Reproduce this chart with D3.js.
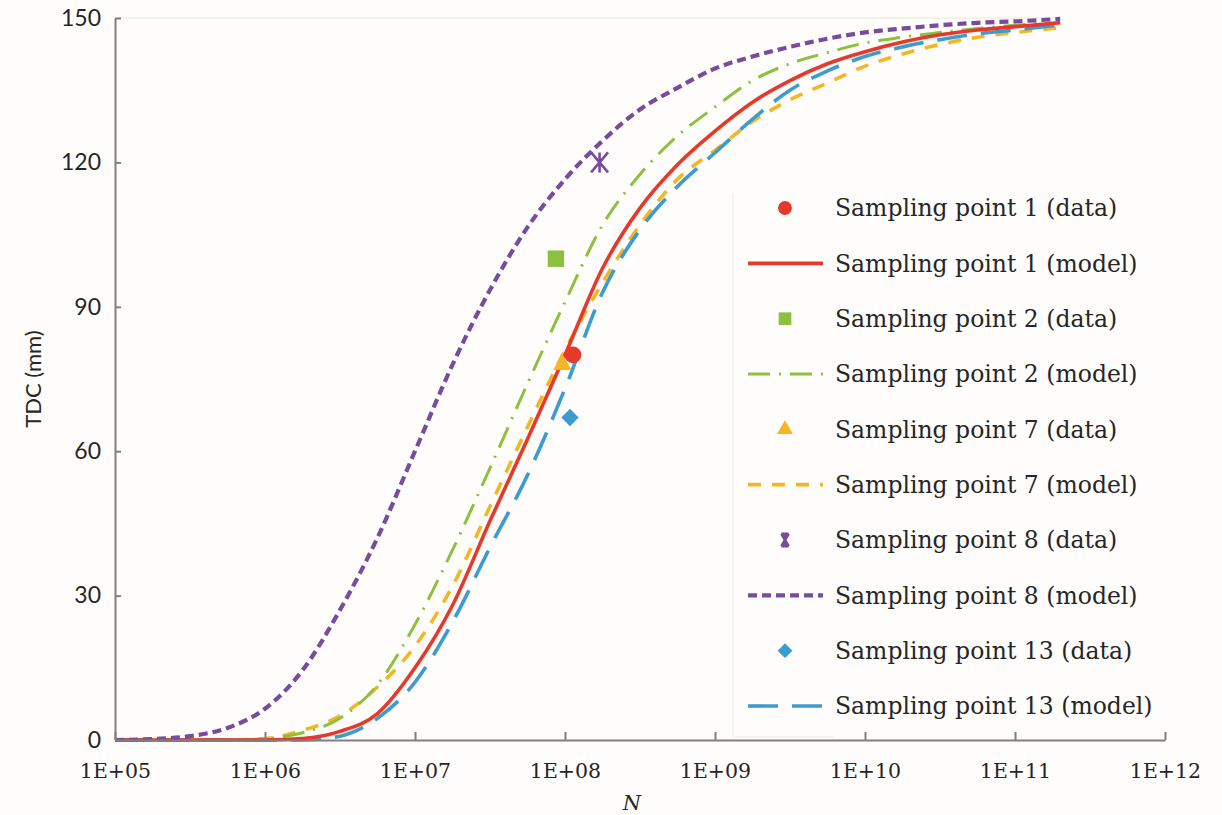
<!DOCTYPE html>
<html>
<head>
<meta charset="utf-8">
<script src="https://cdn.jsdelivr.net/npm/d3@7"></script>
<style>
  html, body { margin: 0; padding: 0; background: #fefdfb; }
  svg { display: block; }
</style>
</head>
<body>
<svg id="chart" width="1222" height="815"></svg>
<script>
// Load cycles N at which the model curves are sampled
const nGrid = [1e5, 1.78e5, 3.16e5, 5.62e5, 1e6, 1.78e6, 3.16e6, 5.62e6, 1e7, 1.78e7, 3.16e7, 5.62e7,
               1e8, 1.78e8, 3.16e8, 5.62e8, 1e9, 1.78e9, 3.16e9, 5.62e9, 1e10, 1.78e10, 3.16e10, 5.62e10, 1e11, 2e11];

// Model TDC (mm) for each sampling point
const model1  = [0, 0, 0, 0, 0, 0.3, 1.8, 5.5, 15, 28, 45.5, 62.5, 80, 98, 110.5, 119.5, 126.5, 132.5, 137, 140.5, 143, 145, 146.5, 147.5, 148.2, 149];
const model2  = [0, 0, 0, 0, 0.3, 1.5, 4.5, 11.5, 24, 39.5, 56.5, 74, 91, 107, 117.5, 125.5, 131.5, 137, 140.5, 142.8, 144.8, 146, 147, 147.8, 148.5, 149];
const model7  = [0, 0, 0, 0, 0.3, 2, 5, 11, 19.5, 32, 48.5, 65, 81, 95, 107, 116.5, 122.5, 128.5, 133, 136.5, 140, 142.5, 144.5, 146, 147, 148];
const model8  = [0, 0.2, 0.8, 2.5, 6.5, 14.5, 27, 42, 60, 78, 93.5, 106.5, 116.5, 124.5, 131, 135.5, 139.5, 142, 144, 145.7, 147, 147.8, 148.5, 149, 149.3, 149.8];
const model13 = [0, 0, 0, 0, 0, 0, 0.8, 4.5, 12, 24.5, 40, 55, 73, 93, 106, 115, 122, 129, 135, 139, 142, 144, 145.5, 146.7, 147.5, 148.6];

// Measured TDC (mm) at each sampling point
const dataN   = [1.13e8, 8.7e7, 9.6e7, 1.7e8, 1.08e8];
const dataTDC = [80, 100, 78, 120, 67];

// Axis ticks
const xTicks = [1e5, 1e6, 1e7, 1e8, 1e9, 1e10, 1e11, 1e12];
const xTickLabels = ["1E+05", "1E+06", "1E+07", "1E+08", "1E+09", "1E+10", "1E+11", "1E+12"];
const yTicks = [0, 30, 60, 90, 120, 150];

const legendLabels = [
  "Sampling point 1 (data)", "Sampling point 1 (model)",
  "Sampling point 2 (data)", "Sampling point 2 (model)",
  "Sampling point 7 (data)", "Sampling point 7 (model)",
  "Sampling point 8 (data)", "Sampling point 8 (model)",
  "Sampling point 13 (data)", "Sampling point 13 (model)"
];

// Asterisk-like marker: vertical bar and two diagonals, optionally capped
function starSymbol(spread, caps) {
  return {
    draw(ctx, size) {
      const r = Math.sqrt(size) / 2;
      const w = r * spread;
      ctx.moveTo(0, -r); ctx.lineTo(0, r);
      ctx.moveTo(-w, -r); ctx.lineTo(w, r);
      ctx.moveTo(w, -r); ctx.lineTo(-w, r);
      if (caps) {
        ctx.moveTo(-w, -r); ctx.lineTo(w, -r);
        ctx.moveTo(-w, r); ctx.lineTo(w, r);
      }
    }
  };
}

const series = [
  { name: "7",  values: model7,  color: "#f4b624", width: 3.6, dash: "13,11", symbol: d3.symbolTriangle, size: 150, legendSize: 110, stroke: false, rotate: 0 },
  { name: "13", values: model13, color: "#3d9ccf", width: 3.6, dash: "30,14", symbol: d3.symbolSquare,   size: 150, legendSize: 110, stroke: false, rotate: 45 },
  { name: "2",  values: model2,  color: "#8cc03e", width: 3.0, dash: "22,9,2,9", symbol: d3.symbolSquare, size: 270, legendSize: 160, stroke: false, rotate: 0 },
  { name: "1",  values: model1,  color: "#e5392b", width: 3.6, dash: null,    symbol: d3.symbolCircle,   size: 220, legendSize: 150, stroke: false, rotate: 0 },
  { name: "8",  values: model8,  color: "#784c9d", width: 4.2, dash: "9,5",   symbol: starSymbol(0.85, false), legendSymbol: starSymbol(0.6, true), size: 400, legendSize: 150, stroke: true, rotate: 0 }
];
const dataIndex = { "1": 0, "2": 1, "7": 2, "8": 3, "13": 4 };

const svg = d3.select("#chart");
const x = d3.scaleLog().domain([1e5, 1e12]).range([115, 1165]);
const y = d3.scaleLinear().domain([0, 150]).range([740, 18]);

// faint frame line along the top of the plot
svg.append("line")
  .attr("x1", x(1e5)).attr("x2", x(2e11))
  .attr("y1", y(150)).attr("y2", y(150))
  .attr("stroke", "#f3efdc").attr("stroke-width", 1.5);

// Legend frame (left and bottom edges only, very light)
const legendY = d3.scaleLinear().domain([0, 9]).range([208, 706]);
svg.append("path")
  .attr("d", `M733,${legendY(0) - 15}V${legendY(9) + 31}H835`)
  .attr("fill", "none").attr("stroke", "#eeeeec").attr("stroke-width", 1.2);

// Model curves
const line = d3.line()
  .x((d, i) => x(nGrid[i]))
  .y(d => y(d))
  .curve(d3.curveMonotoneX);

svg.append("g").selectAll("path")
  .data(series)
  .join("path")
  .attr("d", d => line(d.values))
  .attr("fill", "none")
  .attr("stroke", d => d.color)
  .attr("stroke-width", d => d.width)
  .attr("stroke-dasharray", d => d.dash);

// Measured points
function drawMarker(g, s, type, cx, cy, size) {
  const sym = d3.symbol().type(type).size(size);
  g.append("path")
    .attr("d", sym())
    .attr("transform", `translate(${cx},${cy}) rotate(${s.rotate})`)
    .attr("fill", s.stroke ? "none" : s.color)
    .attr("stroke", s.stroke ? s.color : "none")
    .attr("stroke-width", s.stroke ? 2.6 : 0);
}
const marks = svg.append("g");
series.forEach(s => {
  const k = dataIndex[s.name];
  drawMarker(marks, s, s.symbol, x(dataN[k]), y(dataTDC[k]), s.size);
});

// Axes
const xAxis = d3.axisBottom(x)
  .tickValues(xTicks)
  .tickFormat((d, i) => xTickLabels[i])
  .tickSizeInner(-8).tickSizeOuter(0).tickPadding(23);
const gx = svg.append("g").attr("transform", `translate(0,${y(0)})`).call(xAxis);
gx.selectAll("text").attr("font-family", "'DejaVu Serif', serif").attr("font-size", 20.5).attr("fill", "#262626");

const yAxis = d3.axisLeft(y)
  .tickValues(yTicks)
  .tickSizeInner(-6).tickSizeOuter(0).tickPadding(14);
const gy = svg.append("g").attr("transform", `translate(${x(1e5)},0)`).call(yAxis);
gy.selectAll("text").attr("font-family", "Lato, sans-serif").attr("font-size", 23).attr("fill", "#262626");

[gx, gy].forEach(g => {
  g.select(".domain").attr("stroke", "#808080").attr("stroke-width", 2);
  g.selectAll(".tick line").attr("stroke", "#808080").attr("stroke-width", 2);
});

// Axis titles
svg.append("text")
  .attr("transform", `translate(41,${(y(0) + y(150)) / 2}) rotate(-90)`)
  .attr("text-anchor", "middle")
  .attr("font-family", "Lato, sans-serif").attr("font-size", 22).attr("fill", "#262626")
  .text("TDC (mm)");
svg.append("text")
  .attr("x", 632).attr("y", 810)
  .attr("text-anchor", "middle")
  .attr("font-family", "'DejaVu Serif', serif").attr("font-style", "italic")
  .attr("font-size", 21).attr("fill", "#262626")
  .text("N");

// Legend entries
const legend = svg.append("g");
const legendOrder = ["1", "2", "7", "8", "13"];
legendOrder.forEach((name, j) => {
  const s = series.find(d => d.name === name);
  const yData = legendY(2 * j), yModel = legendY(2 * j + 1);
  drawMarker(legend, s, s.legendSymbol || s.symbol, 785, yData, s.legendSize);
  legend.append("line")
    .attr("x1", 748).attr("x2", 823)
    .attr("y1", yModel).attr("y2", yModel)
    .attr("stroke", s.color)
    .attr("stroke-width", s.width)
    .attr("stroke-dasharray", s.dash);
});
legend.selectAll("text")
  .data(legendLabels)
  .join("text")
  .attr("x", 835)
  .attr("y", (d, i) => legendY(i))
  .attr("dy", "0.36em")
  .attr("font-family", "'DejaVu Serif', serif")
  .attr("font-size", 23.5)
  .attr("fill", "#262626")
  .text(d => d);
</script>
</body>
</html>
